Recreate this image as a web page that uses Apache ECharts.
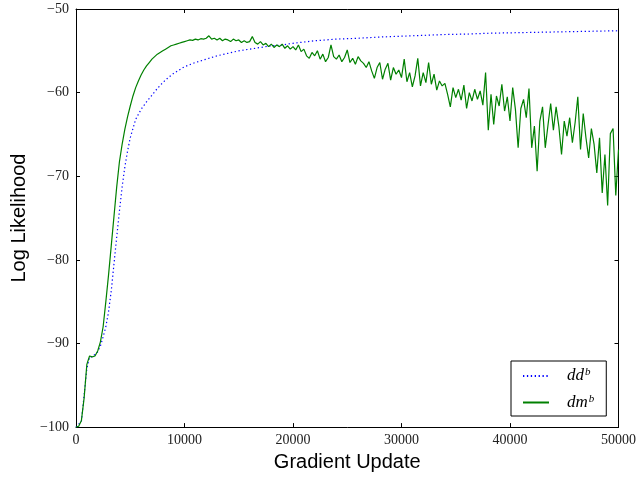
<!DOCTYPE html>
<html>
<head>
<meta charset="utf-8">
<script src="https://cdn.jsdelivr.net/npm/echarts@6/dist/echarts.min.js"></script>
<style>
html,body{margin:0;padding:0;background:#fff;}
#chart{width:639px;height:477px;}
</style>
</head>
<body>
<div id="chart"></div>
<script>
var xTicks = [0, 10000, 20000, 30000, 40000, 50000];
var yTicks = [-100, -90, -80, -70, -60, -50];
var seriesNames = ['dd', 'dm'];

var dmUpdates = [
0,250,500,750,1000,1250,1500,1750,2000,2250,2500,2750,3000,3250,3500,3750,4000,4250,4500,4750,
5000,5250,5500,5750,6000,6250,6500,6750,7000,7250,7500,7750,8000,8250,8500,8750,9000,9250,9500,9750,
10000,10250,10500,10750,11000,11250,11500,11750,12000,12250,12500,12750,13000,13250,13500,13750,14000,14250,14500,14750,
15000,15250,15500,15750,16000,16250,16500,16750,17000,17250,17500,17750,18000,18250,18500,18750,19000,19250,19500,19750,
20000,20250,20500,20750,21000,21250,21500,21750,22000,22250,22500,22750,23000,23250,23500,23750,24000,24250,24500,24750,
25000,25250,25500,25750,26000,26250,26500,26750,27000,27250,27500,27750,28000,28250,28500,28750,29000,29250,29500,29750,
30000,30250,30500,30750,31000,31250,31500,31750,32000,32250,32500,32750,33000,33250,33500,33750,34000,34250,34500,34750,
35000,35250,35500,35750,36000,36250,36500,36750,37000,37250,37500,37750,38000,38250,38500,38750,39000,39250,39500,39750,
40000,40250,40500,40750,41000,41250,41500,41750,42000,42250,42500,42750,43000,43250,43500,43750,44000,44250,44500,44750,
45000,45250,45500,45750,46000,46250,46500,46750,47000,47250,47500,47750,48000,48250,48500,48750,49000,49250,49500,49750,
50000
];
var dmLL = [
-100,-99.9,-99.2,-96.5,-92.5,-91.5,-91.6,-91.5,-90.9,-89.8,-88.0,-85.0,-81.8,-78.3,-74.8,-71.3,-68.3,-66.2,-64.4,-62.9,
-61.6,-60.4,-59.4,-58.6,-57.9,-57.3,-56.8,-56.4,-56.0,-55.7,-55.4,-55.2,-55.0,-54.8,-54.6,-54.4,-54.3,-54.2,-54.1,-54.0,
-53.9,-53.8,-53.7,-53.75,-53.6,-53.7,-53.55,-53.6,-53.5,-53.2,-53.6,-53.5,-53.7,-53.5,-53.8,-53.6,-53.7,-53.9,-53.6,-53.8,
-53.7,-54.0,-53.8,-54.0,-53.9,-53.3,-54.0,-54.2,-53.9,-54.3,-54.1,-54.5,-54.2,-54.6,-54.3,-54.5,-54.2,-54.7,-54.4,-54.8,
-54.5,-54.9,-54.3,-55.1,-54.8,-55.6,-55.9,-55.2,-55.6,-55.0,-56.0,-55.4,-56.3,-55.8,-54.3,-55.7,-56.0,-55.5,-56.3,-55.8,
-54.9,-56.4,-55.9,-56.6,-55.7,-56.2,-56.5,-57.0,-56.3,-57.4,-58.3,-57.0,-56.4,-58.4,-57.2,-56.5,-58.5,-57.0,-57.8,-57.3,
-58.2,-56.0,-58.7,-57.6,-59.3,-58.0,-55.9,-59.2,-57.6,-58.8,-56.4,-59.0,-57.8,-59.7,-58.6,-59.2,-58.9,-60.2,-61.7,-59.4,
-60.6,-59.6,-60.9,-59.1,-61.9,-60.0,-61.0,-59.6,-60.8,-59.8,-61.5,-57.6,-64.5,-60.2,-63.8,-60.4,-61.6,-59.0,-62.2,-60.5,
-63.4,-59.4,-62.0,-66.6,-61.9,-60.8,-63.0,-59.5,-66.6,-64.0,-69.4,-63.4,-61.7,-66.6,-63.9,-61.3,-64.5,-61.7,-64.0,-67.4,
-63.4,-65.2,-63.0,-66.0,-63.6,-60.5,-66.8,-62.5,-65.4,-67.8,-64.3,-66.2,-69.6,-65.4,-72.0,-67.4,-73.5,-64.9,-64.3,-72.3,
-66.8
];

var ddUpdates = [
0,500,1000,1250,1500,2000,2250,2500,2750,3000,3250,3500,3750,4000,4250,4500,4750,5000,5500,6000,
6500,7000,7500,8000,8500,9000,9500,10000,11000,12000,13000,14000,15000,16000,17000,18000,19000,20000,
22000,24000,26000,28000,30000,32000,34000,36000,38000,40000,42000,44000,46000,48000,50000
];
var ddLL = [
-100,-99.3,-93.0,-91.6,-91.6,-91.0,-90.3,-89.2,-88.0,-86.2,-83.7,-80.5,-77.3,-74.2,-71.3,-68.9,-67.0,-65.4,-63.2,-62.0,
-61.1,-60.3,-59.5,-58.8,-58.2,-57.7,-57.3,-56.9,-56.4,-56.0,-55.6,-55.3,-55.0,-54.8,-54.6,-54.4,-54.3,-54.1,
-53.8,-53.6,-53.5,-53.35,-53.25,-53.15,-53.05,-53.0,-52.9,-52.85,-52.8,-52.75,-52.7,-52.65,-52.6
];

function pairs(xs, ys) {
  return xs.map(function (x, i) { return [x, ys[i]]; });
}
function minusFmt(v) { return String(v).replace('-', '\u2212'); }
function plainFmt(v) { return String(v); }

var serif = 'Liberation Serif';
var sans = 'Liberation Sans';
var axisLine = { show: true, onZero: false, lineStyle: { color: '#000', width: 1 } };
var tickIn = { show: true, inside: true, length: 4, lineStyle: { color: '#000', width: 1 } };

var chart = echarts.init(document.getElementById('chart'), null, { renderer: 'canvas' });
chart.setOption({
  animation: false,
  backgroundColor: '#fff',
  grid: { left: 76, right: 19, top: 9, bottom: 45, containLabel: false },
  xAxis: [{
    type: 'value', min: xTicks[0], max: xTicks[xTicks.length - 1], interval: 10000,
    name: 'Gradient Update', nameLocation: 'middle', nameGap: 19,
    nameTextStyle: { fontFamily: sans, fontSize: 20, color: '#000', verticalAlign: 'top', lineHeight: 20 },
    axisLine: axisLine, axisTick: tickIn,
    axisLabel: { fontFamily: serif, fontSize: 14, color: '#222', margin: 6, formatter: plainFmt },
    splitLine: { show: false }
  }, {
    type: 'value', position: 'top', min: xTicks[0], max: xTicks[xTicks.length - 1], interval: 10000,
    axisLine: axisLine, axisTick: tickIn, axisLabel: { show: false }, splitLine: { show: false }
  }],
  yAxis: [{
    type: 'value', min: yTicks[0], max: yTicks[yTicks.length - 1], interval: 10,
    name: 'Log Likelihood', nameLocation: 'middle', nameGap: 45, nameRotate: 90,
    nameTextStyle: { fontFamily: sans, fontSize: 20, color: '#000' },
    axisLine: axisLine, axisTick: tickIn,
    axisLabel: { fontFamily: serif, fontSize: 14, color: '#222', margin: 7, formatter: minusFmt },
    splitLine: { show: false }
  }, {
    type: 'value', position: 'right', min: yTicks[0], max: yTicks[yTicks.length - 1], interval: 10,
    axisLine: axisLine, axisTick: tickIn, axisLabel: { show: false }, splitLine: { show: false }
  }],
  legend: {
    orient: 'vertical', left: 511, top: 361,
    data: seriesNames,
    backgroundColor: '#fff', borderColor: '#000', borderWidth: 1, borderRadius: 0,
    padding: [6, 12, 5, 11], itemGap: 9, itemWidth: 26, itemHeight: 14,
    itemStyle: { color: 'rgba(0,0,0,0)', borderWidth: 0, opacity: 0 },
    formatter: function (name) { return '{m|' + name + '}{s|b}'; },
    textStyle: {
      padding: [0, 0, 0, 13],
      rich: {
        m: { fontFamily: serif, fontStyle: 'italic', fontSize: 17, color: '#000', lineHeight: 18 },
        s: { fontFamily: serif, fontStyle: 'italic', fontSize: 11, color: '#000', verticalAlign: 'top', lineHeight: 11, padding: [0, 0, 0, 1] }
      }
    }
  },
  series: [{
    name: seriesNames[0], type: 'line', xAxisIndex: 0, yAxisIndex: 0,
    data: pairs(ddUpdates, ddLL), showSymbol: false, symbol: 'none', smooth: false,
    lineStyle: { color: '#0000ff', width: 1.2, type: [1.3, 2.6] }, itemStyle: { color: '#0000ff' },
    z: 2
  }, {
    name: seriesNames[1], type: 'line', xAxisIndex: 0, yAxisIndex: 0,
    data: pairs(dmUpdates, dmLL), showSymbol: false, symbol: 'none',
    lineStyle: { color: '#008000', width: 1.2 }, itemStyle: { color: '#008000' },
    z: 3
  }]
});
</script>
</body>
</html>
